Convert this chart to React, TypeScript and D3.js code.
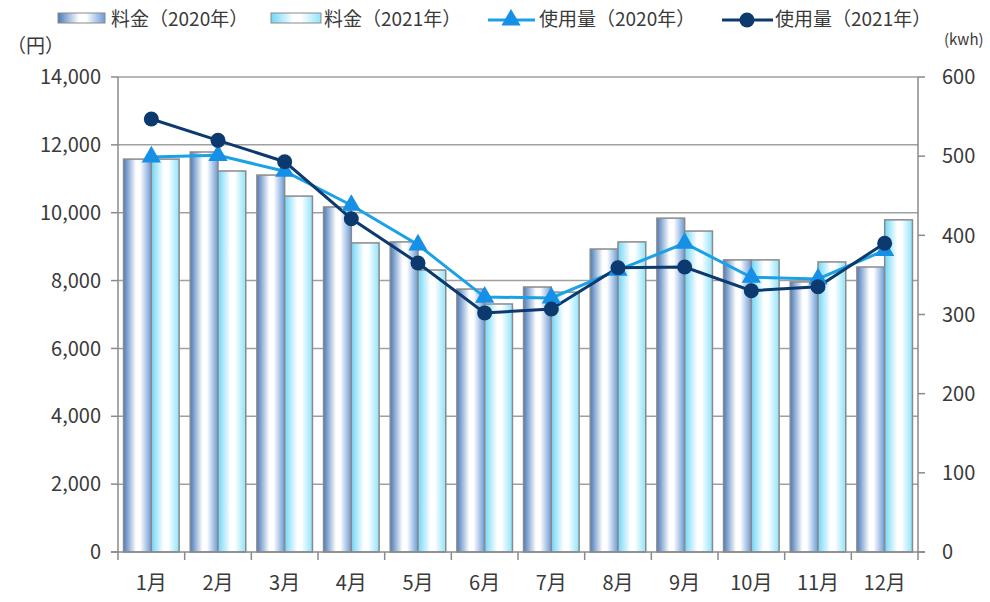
import * as d3 from "d3";
import { useEffect, useRef } from "react";

const months = ["1月", "2月", "3月", "4月", "5月", "6月", "7月", "8月", "9月", "10月", "11月", "12月"];
const fee2020 = [11580, 11790, 11110, 10170, 9140, 7750, 7810, 8930, 9840, 8610, 7960, 8400];
const fee2021 = [11580, 11230, 10490, 9110, 8310, 7310, 7660, 9140, 9460, 8610, 8550, 9790];
const use2020 = [499, 501, 481, 438, 388, 322, 321, 356, 390, 347, 345, 381];
const use2021 = [547, 520, 493, 421, 365, 302, 307, 359, 360, 330, 335, 390];
const leftTicks = [0, 2000, 4000, 6000, 8000, 10000, 12000, 14000];
const rightTicks = [0, 100, 200, 300, 400, 500, 600];

const FONT = "'Noto Sans CJK JP', 'Noto Sans', sans-serif";
const TXT = "#3a3a3a";
const GRID = "#a0a0a0";
const C2020 = "#1ba1e6";
const C2021 = "#0c3a6e";
const FS = 19;

export default function App() {
  const ref = useRef<SVGSVGElement>(null);

  useEffect(() => {
    const svg = d3.select(ref.current);
    svg.selectAll("*").remove();
    const m = { left: 118, right: 918, top: 77, bottom: 552 };

    const defs = svg.append("defs");
    const grad = (id: string, stops: [number, string][]) => {
      const g = defs.append("linearGradient").attr("id", id).attr("x1", "0").attr("x2", "1").attr("y1", "0").attr("y2", "0");
      stops.forEach(([o, c]) => g.append("stop").attr("offset", o).attr("stop-color", c));
    };
    grad("g2020", [[0, "#4a7cbb"], [0.45, "#ffffff"], [0.6, "#ffffff"], [1, "#6a9ad6"]]);
    grad("g2021", [[0, "#6fd6f8"], [0.45, "#ffffff"], [0.6, "#ffffff"], [1, "#8fe3fb"]]);

    const x = d3.scaleBand<string>().domain(months).range([m.left, m.right]);
    const x1 = d3.scaleBand<string>().domain(["a", "b"]).range([0, x.bandwidth()]).paddingOuter(0.2).paddingInner(0);
    const yL = d3.scaleLinear().domain([0, 14000]).range([m.bottom, m.top]);
    const yR = d3.scaleLinear().domain([0, 600]).range([m.bottom, m.top]);

    // grid
    svg.append("g").selectAll("line").data(leftTicks.slice(1)).join("line")
      .attr("x1", m.left).attr("x2", m.right)
      .attr("y1", (d) => yL(d)).attr("y2", (d) => yL(d))
      .attr("stroke", GRID).attr("stroke-width", 1.5);

    // bars
    const bars = svg.append("g");
    const addBars = (vals: number[], key: string, fill: string) => {
      bars.selectAll(null).data(vals).join("rect")
        .attr("x", (_, i) => (x(months[i]) as number) + (x1(key) as number))
        .attr("width", x1.bandwidth())
        .attr("y", (d) => yL(d))
        .attr("height", (d) => m.bottom - yL(d))
        .attr("fill", fill)
        .attr("stroke", "#8a8a8a").attr("stroke-width", 1.5);
    };
    addBars(fee2020, "a", "url(#g2020)");
    addBars(fee2021, "b", "url(#g2021)");

    // axes
    const ax = svg.append("g").attr("stroke", "#8a8a8a").attr("stroke-width", 1.5);
    ax.append("line").attr("x1", m.left).attr("x2", m.left).attr("y1", m.top).attr("y2", m.bottom);
    ax.append("line").attr("x1", m.right).attr("x2", m.right).attr("y1", m.top).attr("y2", m.bottom);
    ax.append("line").attr("x1", m.left - 7).attr("x2", m.right + 7).attr("y1", m.bottom).attr("y2", m.bottom);
    ax.selectAll(null).data(leftTicks).join("line")
      .attr("x1", m.left - 7).attr("x2", m.left).attr("y1", (d) => yL(d)).attr("y2", (d) => yL(d));
    ax.selectAll(null).data(rightTicks).join("line")
      .attr("x1", m.right).attr("x2", m.right + 7).attr("y1", (d) => yR(d)).attr("y2", (d) => yR(d));
    const xt = months.map((mm) => x(mm) as number).concat([m.right]);
    ax.selectAll(null).data(xt).join("line")
      .attr("x1", (d) => d).attr("x2", (d) => d).attr("y1", m.bottom).attr("y2", m.bottom + 8);

    const fmt = d3.format(",");
    svg.append("g").selectAll("text").data(leftTicks).join("text")
      .attr("x", 101).attr("y", (d) => yL(d)).attr("dy", "0.36em")
      .attr("text-anchor", "end").attr("font-family", FONT).attr("font-size", 20).attr("fill", TXT)
      .text((d) => fmt(d));
    svg.append("g").selectAll("text").data(rightTicks).join("text")
      .attr("x", 942).attr("y", (d) => yR(d)).attr("dy", "0.36em")
      .attr("text-anchor", "start").attr("font-family", FONT).attr("font-size", 20).attr("fill", TXT)
      .text((d) => d);
    svg.append("g").selectAll("text").data(months).join("text")
      .attr("x", (d) => (x(d) as number) + x.bandwidth() / 2).attr("y", 590)
      .attr("text-anchor", "middle").attr("font-family", FONT).attr("font-size", 20).attr("fill", TXT)
      .text((d) => d);

    // lines
    const cx = (i: number) => (x(months[i]) as number) + x.bandwidth() / 2;
    const line = d3.line<number>().x((_, i) => cx(i)).y((d) => yR(d));
    svg.append("path").datum(use2020).attr("d", line).attr("fill", "none").attr("stroke", C2020).attr("stroke-width", 3);
    svg.append("path").datum(use2021).attr("d", line).attr("fill", "none").attr("stroke", C2021).attr("stroke-width", 3);
    const tri = d3.symbol().type(d3.symbolTriangle).size(160);
    svg.append("g").selectAll("path").data(use2020).join("path")
      .attr("d", tri).attr("transform", (d, i) => `translate(${cx(i)},${yR(d)})`).attr("fill", "#1590e6");
    svg.append("g").selectAll("circle").data(use2021).join("circle")
      .attr("cx", (_, i) => cx(i)).attr("cy", (d) => yR(d)).attr("r", 7.5).attr("fill", C2021);

    // unit labels
    svg.append("text").attr("x", 7).attr("y", 53).attr("font-family", FONT).attr("font-size", FS).attr("fill", TXT).text("（円）");
    svg.append("text").attr("x", 944).attr("y", 45).attr("font-family", FONT).attr("font-size", 15).attr("fill", TXT).text("(kwh)");

    // legend
    const lg = svg.append("g").attr("font-family", FONT).attr("font-size", FS).attr("fill", TXT);
    lg.append("rect").attr("x", 58).attr("y", 13).attr("width", 47).attr("height", 10).attr("fill", "url(#g2020)").attr("stroke", "#8a8a8a");
    lg.append("text").attr("x", 111).attr("y", 26).text("料金（2020年）");
    lg.append("rect").attr("x", 271).attr("y", 13).attr("width", 50).attr("height", 10).attr("fill", "url(#g2021)").attr("stroke", "#8a8a8a");
    lg.append("text").attr("x", 324).attr("y", 26).text("料金（2021年）");
    lg.append("line").attr("x1", 488).attr("x2", 535).attr("y1", 20).attr("y2", 20).attr("stroke", C2020).attr("stroke-width", 3);
    lg.append("path").attr("d", tri).attr("transform", "translate(511,20)").attr("fill", "#1590e6");
    lg.append("text").attr("x", 539).attr("y", 26).text("使用量（2020年）");
    lg.append("line").attr("x1", 722).attr("x2", 773).attr("y1", 20).attr("y2", 20).attr("stroke", C2021).attr("stroke-width", 3);
    lg.append("circle").attr("cx", 747).attr("cy", 20).attr("r", 7.5).attr("fill", C2021);
    lg.append("text").attr("x", 775).attr("y", 26).text("使用量（2021年）");
  }, []);

  return (
    <svg ref={ref} width={990} height={602} style={{ position: "absolute", left: 0, top: 0, background: "#fff" }} />
  );
}
